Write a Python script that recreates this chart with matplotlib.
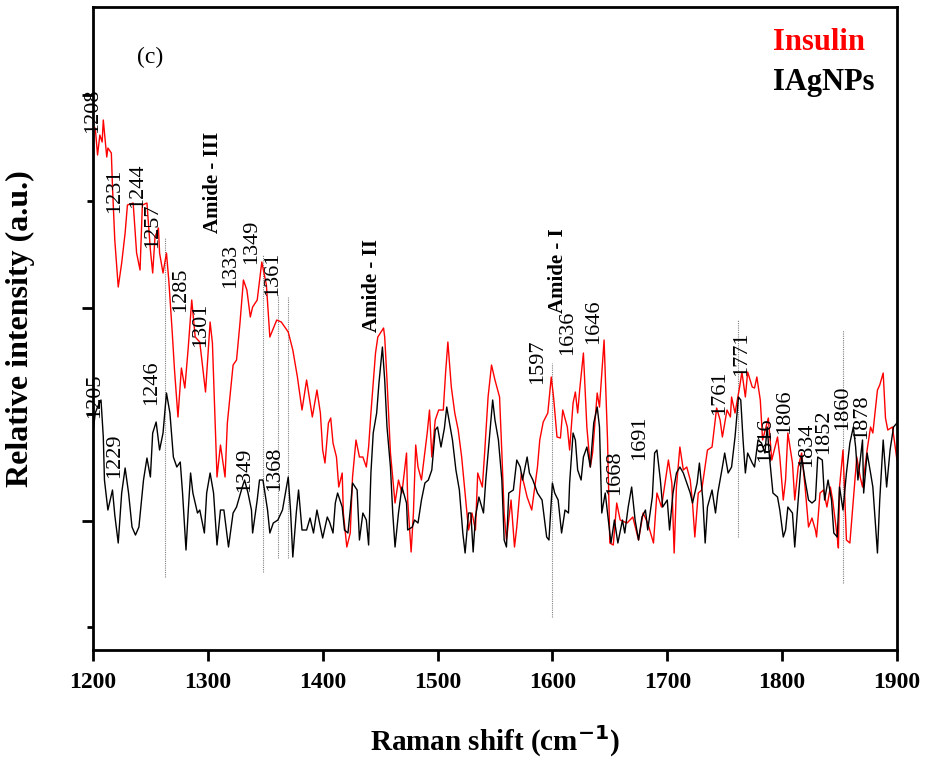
import numpy as np
import matplotlib.pyplot as plt
from matplotlib.ticker import MultipleLocator

plt.rcParams['font.family'] = ['Liberation Serif', 'DejaVu Serif']

# Insulin spectrum (red), Raman shift in cm-1 and relative intensity (a.u.)
insulin_shift = [1200, 1202, 1204, 1206, 1208, 1209, 1212, 1213, 1216, 1217, 1219, 1222, 1225, 1228,
                 1230, 1235, 1238, 1241, 1243, 1247, 1250, 1252, 1254, 1257, 1258, 1261, 1264, 1266,
                 1269, 1271, 1274, 1277, 1280, 1283, 1286, 1289, 1293, 1298, 1302, 1304, 1308, 1311,
                 1315, 1317, 1322, 1325, 1328, 1331, 1334, 1337, 1339, 1343, 1347, 1351, 1354, 1360,
                 1364, 1370, 1374, 1378, 1382, 1386, 1391, 1395, 1398, 1400, 1402, 1405, 1407, 1409,
                 1412, 1414, 1417, 1418, 1421, 1424, 1426, 1429, 1432, 1435, 1438, 1440, 1442, 1446,
                 1448, 1453, 1454, 1456, 1459, 1463, 1466, 1469, 1473, 1474, 1477, 1479, 1481, 1483,
                 1486, 1491, 1493, 1495, 1498, 1501, 1505, 1507, 1509, 1512, 1515, 1518, 1521, 1524,
                 1527, 1530, 1533, 1535, 1539, 1541, 1544, 1547, 1550, 1554, 1556, 1558, 1560, 1564,
                 1567, 1569, 1573, 1578, 1582, 1587, 1589, 1592, 1596, 1599, 1601, 1604, 1607, 1609,
                 1613, 1615, 1618, 1620, 1622, 1624, 1627, 1630, 1633, 1635, 1639, 1641, 1645, 1648,
                 1650, 1653, 1656, 1659, 1665, 1670, 1675, 1679, 1683, 1688, 1691, 1695, 1701, 1704,
                 1706, 1708, 1711, 1714, 1717, 1720, 1722, 1724, 1727, 1730, 1735, 1739, 1743, 1746,
                 1748, 1752, 1755, 1756, 1759, 1763, 1765, 1768, 1770, 1774, 1776, 1778, 1781, 1783,
                 1788, 1791, 1796, 1798, 1801, 1803, 1805, 1809, 1811, 1814, 1817, 1820, 1823, 1826,
                 1829, 1830, 1833, 1836, 1839, 1842, 1844, 1848, 1849, 1850, 1853, 1856, 1859, 1862,
                 1865, 1868, 1870, 1874, 1877, 1879, 1883, 1885, 1888, 1890, 1892, 1896, 1898, 1900]
insulin_int = [520, 522, 495, 515, 508, 530, 493, 502, 497, 463, 410, 363, 387, 417,
               445, 447, 397, 380, 445, 447, 400, 377, 413, 422, 397, 377, 397, 370,
               318, 280, 233, 282, 262, 303, 350, 313, 308, 258, 328, 307, 173, 205,
               173, 227, 285, 290, 327, 370, 360, 333, 343, 350, 388, 365, 313, 330,
               328, 318, 300, 273, 240, 270, 233, 260, 237, 200, 187, 227, 232, 207,
               193, 163, 177, 137, 103, 117, 173, 210, 193, 193, 183, 203, 237, 297,
               313, 322, 313, 270, 197, 147, 170, 157, 197, 150, 98, 137, 205, 183,
               170, 217, 240, 193, 230, 240, 240, 277, 308, 263, 237, 220, 193, 157,
               120, 137, 120, 177, 163, 197, 253, 285, 270, 253, 197, 137, 110, 150,
               103, 123, 177, 153, 140, 183, 210, 228, 237, 273, 253, 213, 212, 240,
               223, 200, 247, 258, 237, 263, 297, 223, 183, 197, 257, 243, 310, 210,
               107, 105, 147, 130, 127, 133, 110, 137, 127, 107, 157, 143, 190, 167,
               97, 163, 203, 180, 183, 170, 147, 113, 157, 160, 200, 203, 242, 230,
               213, 240, 233, 253, 237, 263, 278, 253, 278, 263, 262, 273, 250, 210,
               232, 190, 213, 193, 150, 170, 217, 187, 150, 183, 197, 163, 123, 132,
               120, 113, 157, 160, 143, 163, 150, 113, 102, 163, 200, 110, 107, 150,
               193, 173, 163, 200, 223, 217, 260, 265, 277, 232, 220, 223, 207, 190]

# IAgNPs spectrum (black)
agnp_shift = [1200, 1202, 1204, 1207, 1209, 1210, 1213, 1217, 1219, 1222, 1225, 1228, 1231, 1234,
              1237, 1240, 1244, 1247, 1250, 1252, 1255, 1258, 1261, 1264, 1267, 1270, 1273, 1276,
              1278, 1281, 1283, 1285, 1287, 1291, 1293, 1297, 1299, 1302, 1305, 1308, 1311, 1314,
              1318, 1322, 1325, 1330, 1332, 1335, 1338, 1339, 1343, 1345, 1348, 1352, 1354, 1357,
              1361, 1365, 1367, 1370, 1372, 1374, 1377, 1379, 1382, 1386, 1389, 1392, 1395, 1398,
              1400, 1404, 1406, 1409, 1411, 1413, 1417, 1419, 1422, 1424, 1426, 1430, 1432, 1435,
              1438, 1440, 1442, 1444, 1447, 1449, 1452, 1454, 1456, 1459, 1461, 1463, 1466, 1469,
              1473, 1474, 1478, 1480, 1483, 1486, 1489, 1492, 1495, 1498, 1500, 1503, 1506, 1508,
              1511, 1513, 1516, 1519, 1522, 1524, 1527, 1529, 1531, 1533, 1536, 1540, 1542, 1545,
              1548, 1550, 1553, 1556, 1558, 1560, 1562, 1566, 1569, 1572, 1574, 1578, 1580, 1583,
              1587, 1591, 1595, 1597, 1600, 1602, 1605, 1608, 1611, 1614, 1615, 1618, 1620, 1622,
              1625, 1627, 1630, 1633, 1636, 1639, 1641, 1643, 1646, 1649, 1651, 1654, 1657, 1661,
              1663, 1666, 1669, 1672, 1675, 1678, 1681, 1683, 1687, 1689, 1691, 1694, 1696, 1700,
              1702, 1705, 1708, 1711, 1714, 1717, 1720, 1722, 1726, 1728, 1731, 1733, 1735, 1739,
              1742, 1744, 1748, 1750, 1753, 1756, 1759, 1762, 1764, 1766, 1768, 1770, 1774, 1776,
              1779, 1782, 1785, 1787, 1789, 1792, 1796, 1798, 1801, 1803, 1805, 1809, 1811, 1814,
              1817, 1820, 1823, 1826, 1829, 1831, 1835, 1837, 1840, 1843, 1845, 1848, 1850, 1853,
              1856, 1859, 1862, 1864, 1866, 1870, 1871, 1874, 1877, 1879, 1883, 1885, 1888, 1891,
              1894, 1897, 1900]
agnp_int = [217, 237, 243, 250, 213, 170, 140, 160, 135, 107, 157, 182, 157, 123,
            115, 123, 170, 192, 173, 217, 228, 200, 217, 257, 237, 193, 183, 188,
            157, 100, 140, 177, 157, 137, 140, 117, 157, 177, 157, 105, 140, 140,
            103, 137, 143, 163, 170, 157, 140, 117, 150, 170, 170, 140, 117, 127,
            130, 140, 153, 173, 140, 93, 137, 160, 120, 120, 132, 117, 140, 123,
            112, 133, 128, 117, 147, 157, 143, 120, 117, 140, 167, 160, 110, 137,
            130, 105, 177, 217, 237, 267, 303, 270, 223, 183, 137, 103, 137, 163,
            147, 120, 123, 130, 127, 150, 167, 170, 180, 220, 223, 203, 222, 243,
            223, 210, 180, 160, 117, 97, 137, 137, 98, 133, 153, 137, 170, 210,
            250, 230, 210, 170, 110, 103, 157, 160, 190, 183, 170, 193, 177, 170,
            157, 150, 113, 110, 167, 157, 150, 117, 140, 137, 167, 217, 210, 180,
            170, 193, 203, 183, 227, 243, 223, 137, 157, 127, 107, 130, 107, 130,
            117, 143, 163, 130, 110, 133, 140, 120, 153, 197, 200, 170, 143, 150,
            120, 157, 177, 183, 177, 167, 157, 147, 167, 187, 150, 107, 143, 160,
            137, 157, 183, 197, 177, 183, 213, 253, 250, 210, 177, 197, 187, 183,
            210, 207, 197, 223, 193, 157, 153, 140, 113, 120, 143, 137, 103, 150,
            193, 170, 150, 147, 150, 193, 190, 150, 170, 150, 117, 113, 163, 140,
            177, 207, 223, 203, 170, 210, 157, 197, 177, 163, 97, 150, 210, 163,
            200, 223, 227]

# peak labels: (text, shift, intensity)
peak_labels = [('1208', 1199.5, 539), ('1231', 1219, 459), ('1244', 1239, 464),
               ('1257', 1252, 424), ('1285', 1276, 360), ('1301', 1294, 325),
               ('1333', 1320, 384), ('1349', 1338, 408), ('1361', 1356, 376),
               ('1597', 1587, 288), ('1636', 1613, 317), ('1646', 1636, 328),
               ('1668', 1654, 177), ('1691', 1676, 212), ('1761', 1746, 257),
               ('1771', 1765, 296), ('1806', 1802, 238), ('1816', 1786, 210),
               ('1834', 1821, 205), ('1852', 1836, 218), ('1860', 1853, 242),
               ('1878', 1869, 233), ('1205', 1201.5, 254), ('1229', 1219, 194),
               ('1246', 1251, 267), ('1349', 1332, 180), ('1368', 1358, 181)]
band_labels = [('Amide - III', 1304.5, 468), ('Amide - II', 1443, 365), ('Amide - I', 1605, 379)]

# dotted marker lines: shift, lower, upper intensity
marker_shift = [1263, 1348, 1361, 1370, 1600, 1762, 1853]
marker_low = [73, 78, 92, 92, 33, 113, 67]
marker_high = [413, 395, 355, 353, 287, 330, 320]

fig = plt.figure(figsize=(9.25, 7.64), dpi=100)
ax = fig.add_axes([0.1005, 0.1492, 0.8692, 0.8416])

ax.vlines(marker_shift, marker_low, marker_high, colors='#808080', linestyles=(0, (1, 1)), linewidth=0.8)
ax.plot(insulin_shift, insulin_int, color='red', lw=1.0)
ax.plot(agnp_shift, agnp_int, color='black', lw=1.0)

for txt, x, y in peak_labels:
    ax.text(x, y, txt, rotation=90, ha='center', va='center', fontsize=16, clip_on=False)
for txt, x, y in band_labels:
    ax.text(x, y, txt, rotation=90, ha='center', va='center', fontsize=15, fontweight='bold')

ax.text(0.0709, 0.922, '(c)', transform=ax.transAxes, ha='center', va='center', fontsize=17)
ax.text(0.8458, 0.9456, 'Insulin', transform=ax.transAxes, ha='left', va='center',
        fontsize=22, fontweight='bold', color='red')
ax.text(0.8458, 0.8834, 'IAgNPs', transform=ax.transAxes, ha='left', va='center',
        fontsize=22, fontweight='bold', color='black')

ax.set_xlim(1200, 1900)
ax.set_ylim(0, 643)
ax.xaxis.set_major_locator(MultipleLocator(100))
ax.yaxis.set_major_locator(MultipleLocator(213, offset=129))
ax.yaxis.set_minor_locator(MultipleLocator(213, offset=23))
ax.set_yticklabels([])
ax.tick_params(axis='x', which='major', direction='out', length=8, width=2, pad=8, labelsize=17)
ax.tick_params(axis='y', which='major', direction='out', length=8, width=2)
ax.tick_params(axis='y', which='minor', direction='out', length=4, width=2)
for lab in ax.get_xticklabels():
    lab.set_fontweight('bold')
for sp in ax.spines.values():
    sp.set_linewidth(2)

ax.set_xlabel('Raman shift (cm$^{\\mathbf{-1}}$)', fontsize=21, fontweight='bold', labelpad=22)
ax.yaxis.set_label_coords(-0.072, 0.528)
ax.set_ylabel('Relative intensity (a.u.)', fontsize=23, fontweight='bold')

fig.savefig('out.png', dpi=100)
